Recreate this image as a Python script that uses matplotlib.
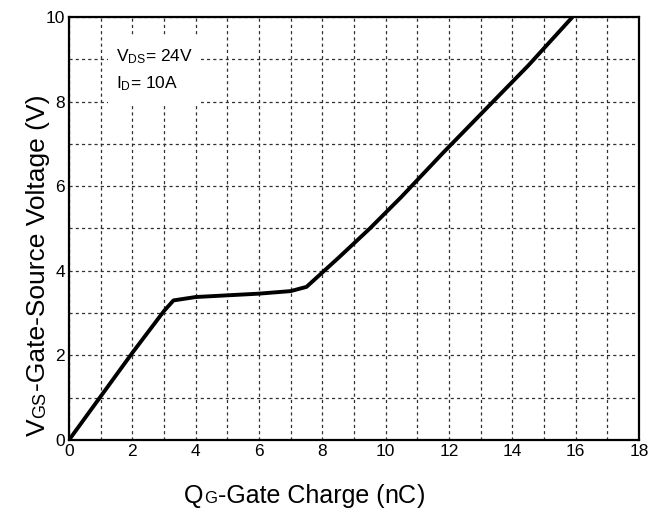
import matplotlib
matplotlib.use('Agg')
import matplotlib.pyplot as plt
from matplotlib.transforms import IdentityTransform
from matplotlib.patches import Rectangle

plt.rcParams['font.family'] = ['Liberation Sans', 'DejaVu Sans']
plt.rcParams['mathtext.fontset'] = 'custom'
plt.rcParams['mathtext.rm'] = 'Liberation Sans'
plt.rcParams['mathtext.it'] = 'Liberation Sans:italic'

# ---- data ----
qg_nc = [0, 1, 2, 3, 3.3, 4, 5, 6, 7, 7.5, 8.5, 9.5, 10.5, 11.8, 13, 14.5, 15.9]
vgs_v = [0, 1.03, 2.06, 3.05, 3.3, 3.38, 3.42, 3.46, 3.52, 3.62, 4.3, 5.0, 5.75,
         6.78, 7.7, 8.85, 10.0]
x_ticks = [0, 2, 4, 6, 8, 10, 12, 14, 16, 18]
y_ticks = [0, 2, 4, 6, 8, 10]
x_grid = list(range(0, 19))
y_grid = list(range(0, 11))
cond_lines = [r'V$_{\mathrm{DS}}$= 24V', r'I$_{\mathrm{D}}$= 10A']

W, H = 667, 515
fig = plt.figure(figsize=(W / 100, H / 100), dpi=100)
ax = fig.add_axes([69 / W, 1 - 440 / H, 570 / W, 423 / H])
ax.set_xlim(0, 18)
ax.set_ylim(0, 10)

ax.set_xticks(x_ticks)
ax.set_xticks(x_grid, minor=True)
ax.set_yticks(y_ticks)
ax.set_yticks(y_grid, minor=True)
ax.tick_params(which='both', length=0, labelsize=12.5, pad=3)
ax.grid(True, which='both', color='#303030', linestyle=(0, (2.5, 2.5)), linewidth=0.9)
ax.set_axisbelow(True)
for s in ax.spines.values():
    s.set_linewidth(1.6)
    s.set_color('black')

# white box behind the conditions text
ax.add_patch(Rectangle((1.22, 7.9), 2.95, 1.65, facecolor='white', edgecolor='none', zorder=1.5))
ax.text(1.5, 9.07, cond_lines[0], fontsize=12.5, va='center', ha='left', zorder=3)
ax.text(1.5, 8.42, cond_lines[1], fontsize=12.5, va='center', ha='left', zorder=3)

ax.plot(qg_nc, vgs_v, color='black', linewidth=2.8, zorder=4, solid_capstyle='butt')

fig.canvas.draw()
renderer = fig.canvas.get_renderer()


def compose(parts, x0, y0, rotation=0):
    pos = x0 if rotation == 0 else y0
    for txt, size, fam in parts:
        kw = dict(fontsize=size, transform=IdentityTransform(), ha='left', va='baseline',
                  rotation=rotation, rotation_mode='anchor')
        if fam:
            kw['family'] = fam
        if rotation == 0:
            t = fig.text(pos, y0, txt, **kw)
        else:
            t = fig.text(x0, pos, txt, **kw)
        bb = t.get_window_extent(renderer)
        pos += bb.width if rotation == 0 else bb.height
        pos += 0.5


compose([('V', 19, None), ('GS', 13, None), ('-Gate-Source Voltage (V)', 19, None)],
        45, H - 436, rotation=90)
compose([('Q', 18, None), ('G', 12, None), ('-Gate Charge (', 18, None),
         ('nC', 18, ['Liberation Sans Narrow', 'Liberation Sans']), (')', 18, None)],
        184, H - 503)

fig.savefig('out.png', dpi=100)
